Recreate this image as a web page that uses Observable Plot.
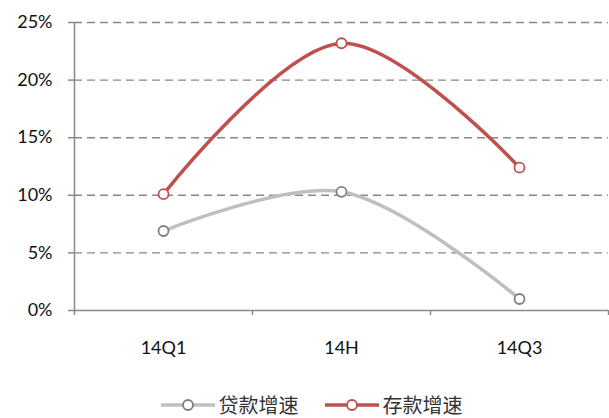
<!DOCTYPE html>
<html>
<head>
<meta charset="utf-8">
<script src="https://cdn.jsdelivr.net/npm/d3@7"></script>
<script src="https://cdn.jsdelivr.net/npm/@observablehq/plot@0.6"></script>
<style>
  body { margin: 0; background: #fff; }
  #chart { width: 609px; height: 418px; position: relative; overflow: hidden; }
  .legend { position: absolute; left: 0; top: 393px; width: 609px; height: 24px; display: flex; justify-content: center; align-items: center; padding-left: 14px; box-sizing: border-box; font-family: "Noto Sans CJK SC", sans-serif; font-size: 20px; line-height: 24px; color: #333; }
  .item { display: flex; align-items: center; margin: 0 13px; height: 24px; }
  .item span { margin-left: 4px; line-height: 24px; }
</style>
</head>
<body>
<div id="chart"></div>
<script>
const categories = ["14Q1", "14H", "14Q3"];
const loanGrowth = [6.9, 10.3, 1.0];      // 贷款增速 (%)
const depositGrowth = [10.1, 23.2, 12.4]; // 存款增速 (%)
const seriesNames = ["贷款增速", "存款增速"];
const yTicks = [0, 5, 10, 15, 20, 25];

const lineColors = ["#BFBFBF", "#C0504D"];
const markerColors = ["#7F7F7F", "#C0504D"];

const rows = [];
categories.forEach((c, i) => {
  rows.push({series: seriesNames[0], cat: c, pos: i + 0.5, value: loanGrowth[i]});
  rows.push({series: seriesNames[1], cat: c, pos: i + 0.5, value: depositGrowth[i]});
});
const edges = d3.range(categories.length + 1);

const H = 393;
const plot = Plot.plot({
  width: 609,
  height: H,
  marginLeft: 74,
  marginRight: 1,
  marginTop: 22,
  marginBottom: H - 310,
  style: {fontFamily: "Lato, 'Open Sans', sans-serif", fontSize: "18px", color: "#222", background: "#fff"},
  x: {domain: [0, categories.length], axis: null},
  y: {domain: [0, 25], axis: null},
  marks: [
    Plot.ruleY(yTicks.filter(d => d > 0), {stroke: "#888", strokeWidth: 1.4, strokeDasharray: "8,5"}),
    Plot.ruleY([0], {stroke: "#898989", strokeWidth: 1.5}),
    Plot.ruleX([0], {y1: 0, y2: 25, stroke: "#898989", strokeWidth: 1.5}),
    Plot.axisY({ticks: yTicks, tickSize: 6, tickPadding: 16, label: null, tickFormat: d => d + "%", stroke: "#898989", strokeWidth: 1.5, fill: "#111", fontSize: 18}),
    Plot.axisX({ticks: edges, tickSize: 5, label: null, tickFormat: () => "", stroke: "#898989", strokeWidth: 1.5}),
    Plot.axisX({ticks: categories.map((c, i) => i + 0.5), tickSize: 0, tickPadding: 31, label: null, tickFormat: d => categories[Math.floor(d)], fill: "#111", fontSize: 18}),
    Plot.line(rows.filter(d => d.series === seriesNames[0]), {x: "pos", y: "value", curve: "catmull-rom", stroke: lineColors[0], strokeWidth: 3.5}),
    Plot.line(rows.filter(d => d.series === seriesNames[1]), {x: "pos", y: "value", curve: "catmull-rom", stroke: lineColors[1], strokeWidth: 3.5}),
    Plot.dot(rows.filter(d => d.series === seriesNames[0]), {x: "pos", y: "value", r: 5, fill: "#fff", stroke: markerColors[0], strokeWidth: 1.8}),
    Plot.dot(rows.filter(d => d.series === seriesNames[1]), {x: "pos", y: "value", r: 5, fill: "#fff", stroke: markerColors[1], strokeWidth: 1.8})
  ]
});
const chart = document.getElementById("chart");
chart.appendChild(plot);

const legend = document.createElement("div");
legend.className = "legend";
seriesNames.forEach((name, i) => {
  const item = document.createElement("div");
  item.className = "item";
  item.innerHTML = `<svg width="54" height="14"><line x1="0" y1="7" x2="54" y2="7" stroke="${lineColors[i]}" stroke-width="3.5"/><circle cx="27" cy="7" r="5" fill="#fff" stroke="${markerColors[i]}" stroke-width="1.8"/></svg><span>${name}</span>`;
  legend.appendChild(item);
});
chart.appendChild(legend);
</script>
</body>
</html>
